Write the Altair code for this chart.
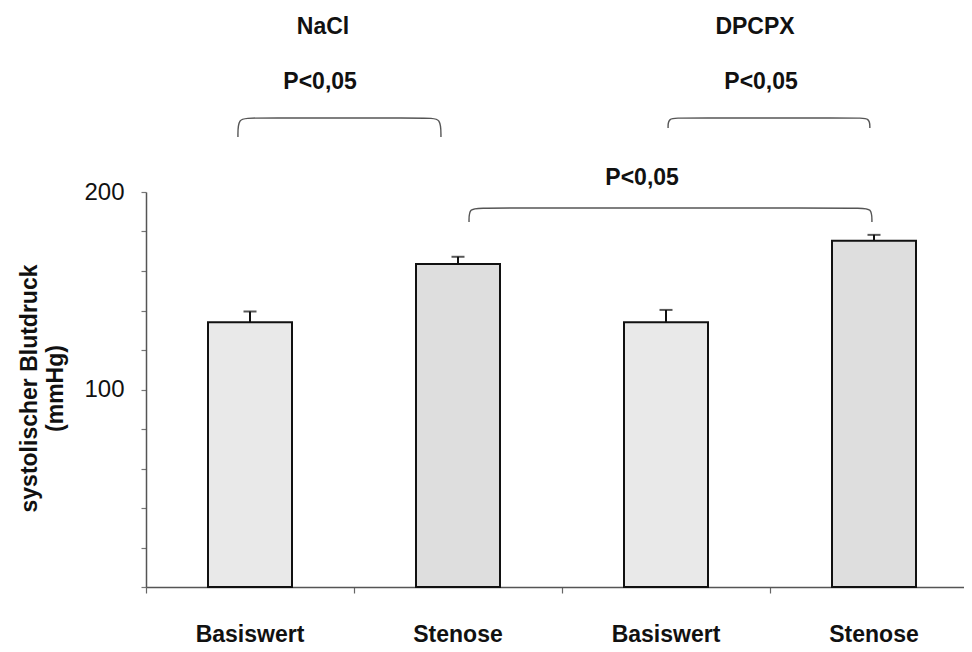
import altair as alt
import pandas as pd

# ---- data ----
groups = ["NaCl", "NaCl", "DPCPX", "DPCPX"]
conditions = ["Basiswert", "Stenose", "Basiswert", "Stenose"]
means = [134.0, 163.5, 134.0, 175.3]
errors = [5.5, 3.7, 6.3, 3.0]

# annotation texts above the bars (x in category units 0..4, y in mmHg units)
ann_text = ["NaCl", "DPCPX", "P<0,05", "P<0,05", "P<0,05"]
ann_pos = [0.851, 2.928, 0.837, 2.957, 2.385]
ann_level = [283.5, 283.5, 255.7, 255.7, 207.1]

# significance brackets
brk_start = [0.442, 2.51, 1.553]
brk_end = [1.418, 3.48, 3.49]
brk_top = [237.5, 237.5, 191.9]
brk_foot = [227.8, 232.4, 184.8]

FONT = "Liberation Sans, Arial, Helvetica, sans-serif"

keys = [f"{g}|{c}" for g, c in zip(groups, conditions)]
bars = pd.DataFrame({
    "key": keys,
    "condition": conditions,
    "mean": means,
    "upper": [m + e for m, e in zip(means, errors)],
})

ann = pd.DataFrame({"text": ann_text, "u": ann_pos, "v": ann_level})

rows = []
d = 0.06
for i, (x0, x1, t, f) in enumerate(zip(brk_start, brk_end, brk_top, brk_foot)):
    pts = [(x0, f), (x0, t), (x0 + d, t), (x1 - d, t), (x1, t), (x1, f)]
    for j, (u, v) in enumerate(pts):
        rows.append({"b": i, "o": j, "u": u, "v": v})
brk = pd.DataFrame(rows)

W, H = 818, 395
XR = 832  # x range extends slightly past the visible page edge, as in the reference

bandscale = alt.Scale(paddingInner=0, paddingOuter=0, range=[0, XR])
uscale = alt.Scale(domain=[0, 4], nice=False, zero=False, range=[0, XR])
ysc = alt.Scale(domain=[0, 200], nice=False, zero=True)

xenc = alt.X(
    "key:N", sort=keys, scale=bandscale,
    axis=alt.Axis(
        title=None, bandPosition=0,
        labelExpr="split(datum.label, '|')[1]",
        labelAngle=0, labelFont=FONT, labelFontSize=23, labelFontWeight="bold",
        labelColor="#111", labelPadding=30, tickSize=6, tickColor="#666",
        domainColor="#555", domainWidth=1.5, tickWidth=1.2,
    ),
)

yenc = alt.Y(
    "mean:Q", scale=ysc,
    axis=alt.Axis(
        values=list(range(0, 201, 20)),
        labelExpr="(datum.value == 100 || datum.value == 200) ? datum.label : ''",
        labelFont=FONT, labelFontSize=24, labelColor="#111", labelPadding=17,
        tickSize=5, tickColor="#777", tickWidth=1.2,
        domainColor="#555", domainWidth=1.5, grid=False,
        title=["systolischer Blutdruck", "(mmHg)"],
        titleFont=FONT, titleFontSize=23, titleFontWeight="bold", titleColor="#111",
        titleAngle=-90, titleAlign="center", titleBaseline="middle",
        titleX=-117, titleY=196, titleLineHeight=26,
    ),
)

bar_layer = alt.Chart(bars).mark_bar(size=84, stroke="#111", strokeWidth=2).encode(
    x=xenc,
    y=yenc,
    color=alt.Color("condition:N",
                    scale=alt.Scale(domain=["Basiswert", "Stenose"], range=["#e9e9e9", "#dedede"]),
                    legend=None),
)

err_layer = alt.Chart(bars).mark_rule(color="#111", strokeWidth=2).encode(
    x=alt.X("key:N", sort=keys, scale=bandscale, axis=None),
    y=alt.Y("mean:Q", scale=ysc, axis=None),
    y2="upper:Q",
)

cap_layer = alt.Chart(bars).mark_tick(color="#111", size=13, thickness=2).encode(
    x=alt.X("key:N", sort=keys, scale=bandscale, axis=None),
    y=alt.Y("upper:Q", scale=ysc, axis=None),
)

brk_layer = alt.Chart(brk).mark_line(color="#555", strokeWidth=1.4, interpolate="basis", clip=False).encode(
    x=alt.X("u:Q", scale=uscale, axis=None),
    y=alt.Y("v:Q", scale=ysc, axis=None),
    detail="b:N",
    order="o:Q",
)

txt_layer = alt.Chart(ann).mark_text(font=FONT, fontSize=23, fontWeight="bold", color="#111",
                                     align="center", baseline="middle", clip=False).encode(
    x=alt.X("u:Q", scale=uscale, axis=None),
    y=alt.Y("v:Q", scale=ysc, axis=None),
    text="text:N",
)

chart = alt.layer(bar_layer, err_layer, cap_layer, brk_layer, txt_layer).resolve_scale(
    x="independent", y="shared"
).resolve_axis(
    x="independent", y="independent"
).properties(
    width=W, height=H,
    autosize=alt.AutoSizeParams(type="none"),
    padding={"left": 138, "top": 184, "right": 0, "bottom": 64},
    background="white",
).configure_view(stroke=None)

chart.save("out.html", embed_options={"renderer": "svg", "actions": False})
